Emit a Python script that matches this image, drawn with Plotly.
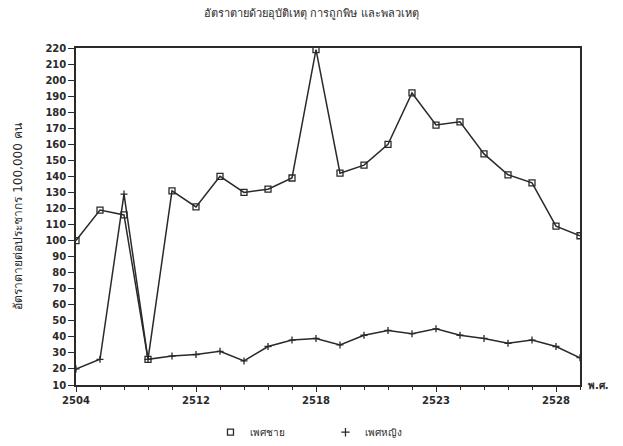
import plotly.graph_objects as go

# ---- data ----
x_index = list(range(22))
tick_positions = [0, 5, 10, 15, 20]
tick_labels = ["2504", "2512", "2518", "2523", "2528"]

male = [100, 119, 116, 26, 131, 121, 140, 130, 132, 139, 219, 142, 147, 160, 192,
        172, 174, 154, 141, 136, 109, 103]
female = [20, 26, 129, 26, 28, 29, 31, 25, 34, 38, 39, 35, 41, 44, 42,
          45, 41, 39, 36, 38, 34, 27]

y_ticks = list(range(10, 221, 10))

title_text = "อัตราตายด้วยอุบัติเหตุ การถูกพิษ และพลวเหตุ"
y_title = "อัตราตายต่อประชากร 100,000 คน"
male_name = "เพศชาย"
female_name = "เพศหญิง"
x_unit = "พ.ศ."

ink = "#2a2a2a"
font_family = "DejaVu Sans, Noto Sans, sans-serif"

fig = go.Figure()

fig.add_trace(go.Scatter(
    x=x_index, y=male, mode="lines+markers", showlegend=False,
    line=dict(color=ink, width=1.5),
    marker=dict(symbol="square-open", size=6, color=ink, line=dict(width=1.3, color=ink)),
))
fig.add_trace(go.Scatter(
    x=x_index, y=female, mode="lines+markers", showlegend=False,
    line=dict(color=ink, width=1.5),
    marker=dict(symbol="cross-thin-open", size=5, color=ink, line=dict(width=1.3, color=ink)),
))

# legend-only entries (marker only, as in the reference)
fig.add_trace(go.Scatter(
    x=[None], y=[None], mode="markers", name=male_name,
    marker=dict(symbol="square-open", size=6, color=ink, line=dict(width=1.3, color=ink)),
))
fig.add_trace(go.Scatter(
    x=[None], y=[None], mode="markers", name=female_name,
    marker=dict(symbol="cross-thin-open", size=6, color=ink, line=dict(width=1.3, color=ink)),
))

tick_font = dict(size=10, weight="bold", color=ink)

fig.update_layout(
    width=623, height=446,
    margin=dict(l=76, r=43, t=48, b=61, autoexpand=False),
    paper_bgcolor="white", plot_bgcolor="white",
    font=dict(family=font_family, size=10, color=ink),
    title=dict(text=title_text, x=0.5, xref="container", xanchor="center",
               y=0.97, yref="container", yanchor="middle",
               font=dict(size=11, color=ink)),
    legend=dict(orientation="h", x=0.495, xanchor="center", y=-0.14, yanchor="middle",
                font=dict(size=10), entrywidth=70, itemwidth=30,
                bgcolor="rgba(0,0,0,0)"),
    showlegend=True,
)

fig.update_xaxes(
    range=[0, 21], tickmode="array", tickvals=tick_positions, ticktext=tick_labels,
    ticks="outside", ticklen=5, tickwidth=1.3, tickcolor=ink,
    minor=dict(tickmode="linear", tick0=0, dtick=1, ticks="outside", ticklen=3,
               tickwidth=1.3, tickcolor=ink, showgrid=False),
    showline=True, linecolor=ink, linewidth=1.5, mirror=True,
    showgrid=False, zeroline=False, tickfont=tick_font, automargin=False,
)
fig.update_yaxes(
    range=[10, 220], tickmode="array", tickvals=y_ticks,
    ticks="outside", ticklen=6, tickwidth=1.3, tickcolor=ink,
    showline=True, linecolor=ink, linewidth=1.5, mirror=True,
    showgrid=False, zeroline=False, tickfont=tick_font, automargin=False,
    title=dict(text=y_title, font=dict(size=12), standoff=20),
)

fig.add_annotation(text=x_unit, xref="paper", yref="paper", x=1.012, y=0.0,
                   xanchor="left", yanchor="middle", showarrow=False,
                   font=dict(size=10, color=ink, weight="bold"))

fig.write_html("out.html", config={"displayModeBar": False},
               post_script="document.body.style.margin='0';")
